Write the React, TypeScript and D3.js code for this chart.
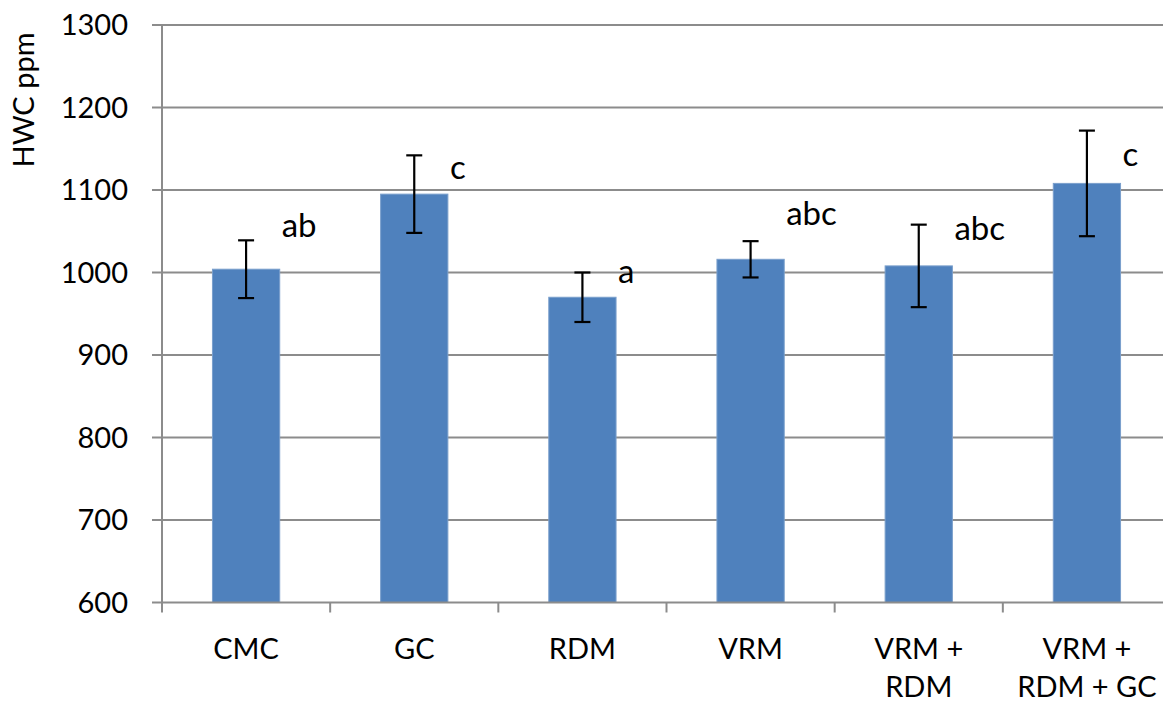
import { useRef, useEffect } from "react";
import * as d3 from "d3";

// treatments, mean HWC (ppm), error (+/-) and the significance letters
const categories = ["CMC", "GC", "RDM", "VRM", "VRM +\nRDM", "VRM +\nRDM + GC"];
const means = [1004, 1095, 970, 1016, 1008, 1108];
const errors = [35, 47, 30, 22, 50, 64];
const letters = ["ab", "c", "a", "abc", "abc", "c"];
// value (ppm) where each letter's baseline sits
const letterAt = [1043, 1113, 987, 1057, 1040, 1129];
const yTicks = [600, 700, 800, 900, 1000, 1100, 1200, 1300];

const W = 1163;
const H = 704;
const FONT = "Lato, 'Open Sans', sans-serif";

const App = () => {
  const ref = useRef<SVGSVGElement | null>(null);

  useEffect(() => {
    if (ref.current === null) return;
    const svg = d3.select(ref.current);
    svg.selectAll("*").remove();

    const left = 162;
    const right = 1171; // plot runs a little past the picture edge
    const top = 25;
    const bottom = 602.5;

    const y = d3.scaleLinear().domain([600, 1300]).range([bottom, top]);
    const slots = d3.scaleBand().domain(categories).range([left, right]);
    const bw = slots.bandwidth();

    // grid lines
    svg
      .append("g")
      .selectAll("line")
      .data(yTicks.filter((t) => t > 600))
      .enter()
      .append("line")
      .attr("x1", left - 10)
      .attr("x2", W)
      .attr("y1", (d) => y(d))
      .attr("y2", (d) => y(d))
      .attr("stroke", "#8c8c8c")
      .attr("stroke-width", 2);

    // bars
    svg
      .append("g")
      .selectAll("rect")
      .data(means)
      .enter()
      .append("rect")
      .attr("x", (d, i) => (slots(categories[i]) ?? 0) + bw * 0.3)
      .attr("y", (d) => y(d))
      .attr("width", bw * 0.4)
      .attr("height", (d) => bottom - y(d))
      .attr("fill", "#4f81bd")
      .attr("stroke", "#7a9fcc")
      .attr("stroke-width", 1);

    // error bars
    const err = svg.append("g").attr("stroke", "#000").attr("stroke-width", 2.2);
    means.forEach((m, i) => {
      const cx = (slots(categories[i]) ?? 0) + bw / 2;
      const y1 = y(m + errors[i]);
      const y2 = y(m - errors[i]);
      err.append("line").attr("x1", cx).attr("x2", cx).attr("y1", y1).attr("y2", y2);
      err.append("line").attr("x1", cx - 8).attr("x2", cx + 8).attr("y1", y1).attr("y2", y1);
      err.append("line").attr("x1", cx - 8).attr("x2", cx + 8).attr("y1", y2).attr("y2", y2);
    });

    // axes lines
    const axis = svg.append("g").attr("stroke", "#8c8c8c").attr("stroke-width", 2);
    axis.append("line").attr("x1", left).attr("x2", left).attr("y1", top).attr("y2", bottom + 10);
    axis.append("line").attr("x1", left - 10).attr("x2", W).attr("y1", bottom).attr("y2", bottom);
    axis.append("line").attr("x1", left - 10).attr("x2", left).attr("y1", top).attr("y2", top);
    categories.forEach((c, i) => {
      if (i === 0) return;
      const x = slots(c) ?? 0;
      axis.append("line").attr("x1", x).attr("x2", x).attr("y1", bottom).attr("y2", bottom + 10);
    });

    // y tick labels
    svg
      .append("g")
      .selectAll("text")
      .data(yTicks)
      .enter()
      .append("text")
      .attr("x", 128)
      .attr("y", (d) => y(d) + 10)
      .attr("text-anchor", "end")
      .attr("font-family", FONT)
      .attr("font-size", 29)
      .attr("fill", "#000")
      .text((d) => d);

    // x labels
    categories.forEach((c, i) => {
      const cx = (slots(c) ?? 0) + bw / 2;
      const t = svg
        .append("text")
        .attr("text-anchor", "middle")
        .attr("font-family", FONT)
        .attr("font-size", 29)
        .attr("fill", "#000");
      c.split("\n").forEach((line, k) => {
        t.append("tspan").attr("x", cx).attr("y", 659 + k * 38).text(line);
      });
    });

    // significance letters
    svg
      .append("g")
      .selectAll("text")
      .data(letters)
      .enter()
      .append("text")
      .attr("x", (d, i) => (slots(categories[i]) ?? 0) + bw * 0.7 + 2)
      .attr("y", (d, i) => y(letterAt[i]))
      .attr("font-family", FONT)
      .attr("font-size", 33)
      .attr("fill", "#000")
      .text((d) => d);

    // y title
    svg
      .append("text")
      .attr("transform", `translate(34,100) rotate(-90)`)
      .attr("text-anchor", "middle")
      .attr("font-family", FONT)
      .attr("font-size", 29)
      .attr("fill", "#000")
      .text("HWC ppm");
  }, []);

  return (
    <svg
      ref={ref}
      width={W}
      height={H}
      style={{ position: "absolute", left: 0, top: 0, background: "#fff" }}
    />
  );
};

export default App;
